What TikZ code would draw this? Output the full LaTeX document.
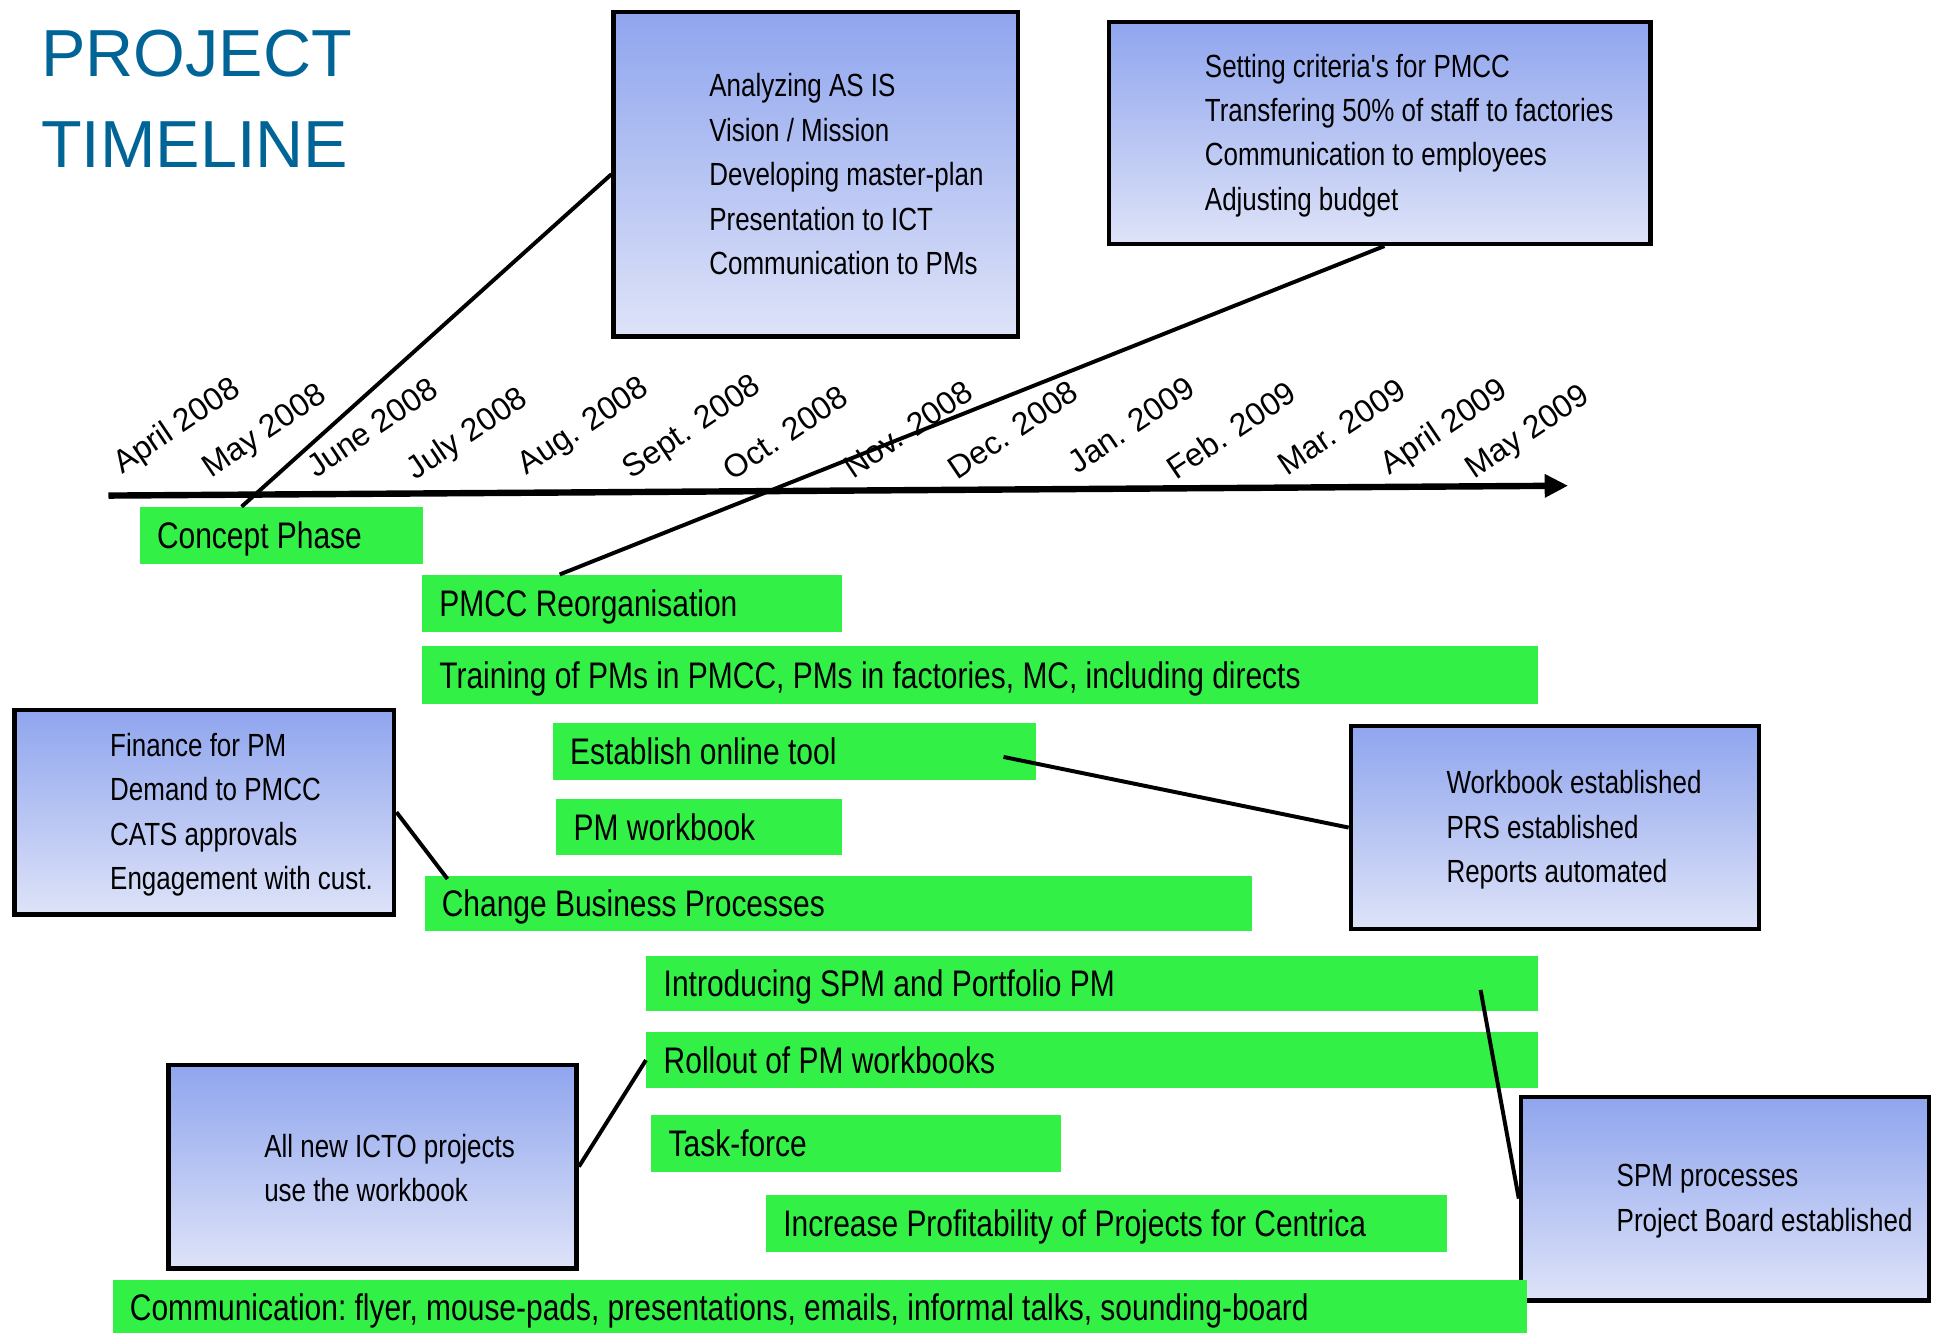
\documentclass[tikz,border=0pt]{standalone}
\usepackage{fontspec}
\setmainfont{Liberation Sans}
\newfontfamily\condsans[FakeStretch=0.81]{Liberation Sans}
\usetikzlibrary{arrows.meta,calc}

\definecolor{bargreen}{RGB}{50,240,70}
\definecolor{titleblue}{RGB}{0,100,150}
\definecolor{boxtop}{RGB}{143,165,238}
\definecolor{boxbot}{RGB}{222,227,248}

\newcommand{\barfont}{\condsans\frenchspacing\fontsize{15}{18}\selectfont}
\newcommand{\notefont}{\condsans\fontsize{13}{18}\selectfont}

\tikzset{
  bar/.style={fill=bargreen, draw=none, anchor=north west, inner xsep=7pt,
    inner ysep=0pt, minimum height=23pt, align=flush left, font=\barfont,
    text height=10.7pt, text depth=0pt},
  notebox/.style={draw=black, line width=1.8pt, top color=boxtop,
    bottom color=boxbot, anchor=north west, inner sep=0pt},
  notetext/.style={anchor=west, align=left, inner sep=0pt, font=\notefont},
  month/.style={anchor=base west, rotate=34, inner sep=0pt,
    font=\fontsize{13}{15}\selectfont},
  heading/.style={anchor=base west, inner sep=0pt, text=titleblue,
    font=\fontsize{27}{37}\selectfont},
  conn/.style={line width=1.6pt},
  axisline/.style={line width=2.6pt, -{Triangle[length=9.5pt,width=9pt]}}
}

\begin{document}
\begin{tikzpicture}[x=0.5pt,y=-0.5pt]
\useasboundingbox (0,0) rectangle (1568,1081);

% title
\node[heading] (ttl1) at (33,62) {PROJECT};
\node[heading] (ttl2) at (33,136) {TIMELINE};

% note boxes
\node[notebox, minimum width=164pt, minimum height=131.5pt] (b1) at (496,8) {};
\node[notetext] (t1) at ($(b1.west)+(79,0)$) {Analyzing AS IS\\Vision / Mission\\Developing master-plan\\Presentation to ICT\\Communication to PMs};

\node[notebox, minimum width=219.5pt, minimum height=90pt] (b2) at (898,16) {};
\node[notetext] (t2) at ($(b2.west)+(79,2)$) {Setting criteria's for PMCC\\Transfering 50\% of staff to factories\\Communication to employees\\Adjusting budget};

\node[notebox, minimum width=154pt, minimum height=83pt] (b3) at (10,574) {};
\node[notetext] (t3) at ($(b3.west)+(79,2)$) {Finance for PM\\Demand to PMCC\\CATS approvals\\Engagement with cust.};

\node[notebox, minimum width=165.5pt, minimum height=82.5pt] (b4) at (1094,587) {};
\node[notetext] (t4) at ($(b4.west)+(79,2)$) {Workbook established\\PRS established\\Reports automated};

\node[notebox, minimum width=165.5pt, minimum height=82.5pt] (b5) at (135,862) {};
\node[notetext] (t5) at ($(b5.west)+(79,1)$) {All new ICTO projects\\use the workbook};

\node[notebox, minimum width=165.5pt, minimum height=82.5pt] (b6) at (1232,888) {};
\node[notetext] (t6) at ($(b6.west)+(79,2)$) {SPM processes\\Project Board established};

% activity bars
\node[bar, minimum width=115pt, text width=101pt] (cp) at (113,411) {Concept Phase};
\node[bar, minimum width=170.5pt, text width=156.5pt] (pm) at (342,466) {PMCC Reorganisation};
\node[bar, minimum width=452.5pt, text width=438.5pt, minimum height=23.5pt] (tr) at (342,524) {Training of PMs in PMCC, PMs in factories, MC, including directs};
\node[bar, minimum width=196pt, text width=182pt] (ot) at (448,586) {Establish online tool};
\node[bar, minimum width=116pt, text width=102pt, minimum height=22.5pt] (wb) at (451,648) {PM workbook};
\node[bar, minimum width=335.5pt, text width=321.5pt, minimum height=22.5pt] (cb) at (344,710) {Change Business Processes};
\node[bar, minimum width=361.5pt, text width=347.5pt, minimum height=22.5pt] (sp) at (524,775) {Introducing SPM and Portfolio PM};
\node[bar, minimum width=361.5pt, text width=347.5pt, minimum height=22.5pt] (ro) at (524,837) {Rollout of PM workbooks};
\node[bar, minimum width=166pt, text width=152pt] (tf) at (528,904) {Task-force};
\node[bar, minimum width=276pt, text width=262pt] (ip) at (621,969) {Increase Profitability of Projects for Centrica};
\node[bar, minimum width=573.5pt, text width=559.5pt, minimum height=22pt] (cm) at (91,1038) {Communication: flyer, mouse-pads, presentations, emails, informal talks, sounding-board};

% time axis
\coordinate (axstart) at (88,402);
\coordinate (axend) at (1272,394);
\draw[axisline] (axstart) -- (axend);

% month labels
\node[month] (m1) at (99,385) {April 2008};
\node[month] (m2) at (171,388) {May 2008};
\node[month] (m3) at (256,388) {June 2008};
\node[month] (m4) at (337,390) {July 2008};
\node[month] (m5) at (427,386) {Aug. 2008};
\node[month] (m6) at (512,389) {Sept. 2008};
\node[month] (m7) at (594,391) {Oct. 2008};
\node[month] (m8) at (692,389) {Nov. 2008};
\node[month] (m9) at (776,390) {Dec. 2008};
\node[month] (m10) at (874,385) {Jan. 2009};
\node[month] (m11) at (954,390) {Feb. 2009};
\node[month] (m12) at (1044,387) {Mar. 2009};
\node[month] (m13) at (1127,386) {April 2009};
\node[month] (m14) at (1196,389) {May 2009};

% connectors from bars to note boxes
\draw[conn] ($(cp.north west)+(83,0)$) -- (b1.west);
\draw[conn] ($(pm.north west)+(112,0)$) -- ($(b2.south west)+(225,0)$);
\draw[conn] ($(ot.north west)+(366,28)$) -- (b4.west);
\draw[conn] (b3.east) -- ($(cb.north west)+(19,3)$);
\draw[conn] ($(sp.north west)+(677,28)$) -- (b6.west);
\draw[conn] (b5.east) -- (ro.west);
\end{tikzpicture}
\end{document}
